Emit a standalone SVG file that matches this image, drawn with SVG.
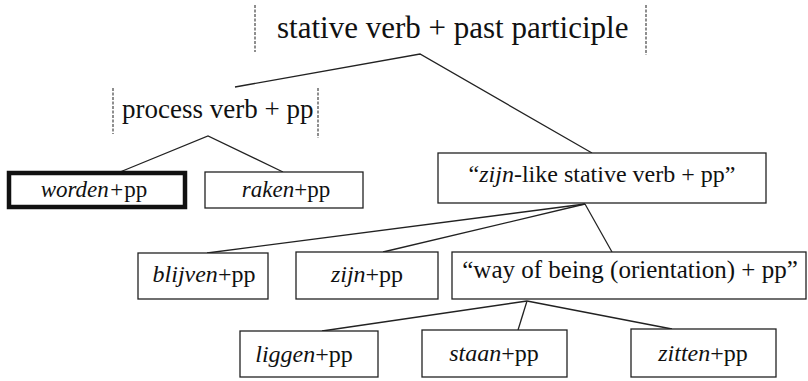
<svg xmlns="http://www.w3.org/2000/svg" width="808" height="381" viewBox="0 0 808 381">
<style>
text{font-family:"Liberation Serif","Times New Roman",Times,serif;fill:#111}
.i{font-style:italic}
.box{fill:#fff;stroke:#222;stroke-width:1.3}
.thick{fill:#fff;stroke:#111;stroke-width:4.5}
.br{stroke:#444;stroke-width:1.2;stroke-dasharray:3 1.5;fill:none}
.c{stroke:#222;stroke-width:1.3;fill:none}
</style>
<rect width="808" height="381" fill="#fff"/>
<g id="connectors">
<polyline class="c" points="235,87 420,54 592,153"/>
<polyline class="c" points="120,172 208,136 283,172"/>
<line class="c" x1="585" y1="204" x2="207" y2="253"/>
<line class="c" x1="585" y1="204" x2="383" y2="252"/>
<line class="c" x1="585" y1="204" x2="612" y2="252"/>
<line class="c" x1="527" y1="301" x2="322" y2="331"/>
<line class="c" x1="527" y1="301" x2="518" y2="330"/>
<line class="c" x1="527" y1="301" x2="672" y2="329"/>
</g>
<g id="n-top">
<line class="br" x1="255" y1="5" x2="255" y2="52"/>
<line class="br" x1="646" y1="5" x2="646" y2="55"/>
<text x="277" y="38" font-size="31">stative verb + past participle</text>
</g>
<g id="n-process">
<line class="br" x1="113" y1="88" x2="113" y2="134"/>
<line class="br" x1="318" y1="88" x2="318" y2="138"/>
<text x="122" y="118" font-size="27">process verb + pp</text>
</g>
<g id="n-worden">
<rect class="thick" x="9" y="173" width="176" height="34"/>
<text x="94" y="197" font-size="23" text-anchor="middle"><tspan class="i">worden+</tspan>pp</text>
</g>
<g id="n-raken">
<rect class="box" x="205" y="172" width="158" height="36"/>
<text x="286" y="197" font-size="23" text-anchor="middle"><tspan class="i">raken</tspan>+pp</text>
</g>
<g id="n-zijnlike">
<rect class="box" x="438" y="153" width="328" height="50"/>
<text x="602" y="182" font-size="24" text-anchor="middle">“<tspan class="i">zijn</tspan>-like stative verb + pp”</text>
</g>
<g id="n-blijven">
<rect class="box" x="138" y="253" width="130" height="46"/>
<text x="204" y="282" font-size="24" text-anchor="middle"><tspan class="i">blijven</tspan>+pp</text>
</g>
<g id="n-zijn">
<rect class="box" x="296" y="252" width="142" height="47"/>
<text x="367" y="282" font-size="24" text-anchor="middle"><tspan class="i">zijn</tspan>+pp</text>
</g>
<g id="n-way">
<rect class="box" x="452" y="252" width="354" height="47"/>
<text x="630" y="278" font-size="25" text-anchor="middle">“way of being (orientation) + pp”</text>
</g>
<g id="n-liggen">
<rect class="box" x="240" y="331" width="138" height="46"/>
<text x="304" y="362" font-size="24" text-anchor="middle"><tspan class="i">liggen</tspan>+pp</text>
</g>
<g id="n-staan">
<rect class="box" x="422" y="330" width="145" height="47"/>
<text x="494" y="361" font-size="24" text-anchor="middle"><tspan class="i">staan</tspan>+pp</text>
</g>
<g id="n-zitten">
<rect class="box" x="631" y="329" width="145" height="48"/>
<text x="703" y="361" font-size="24" text-anchor="middle"><tspan class="i">zitten</tspan>+pp</text>
</g>
</svg>
